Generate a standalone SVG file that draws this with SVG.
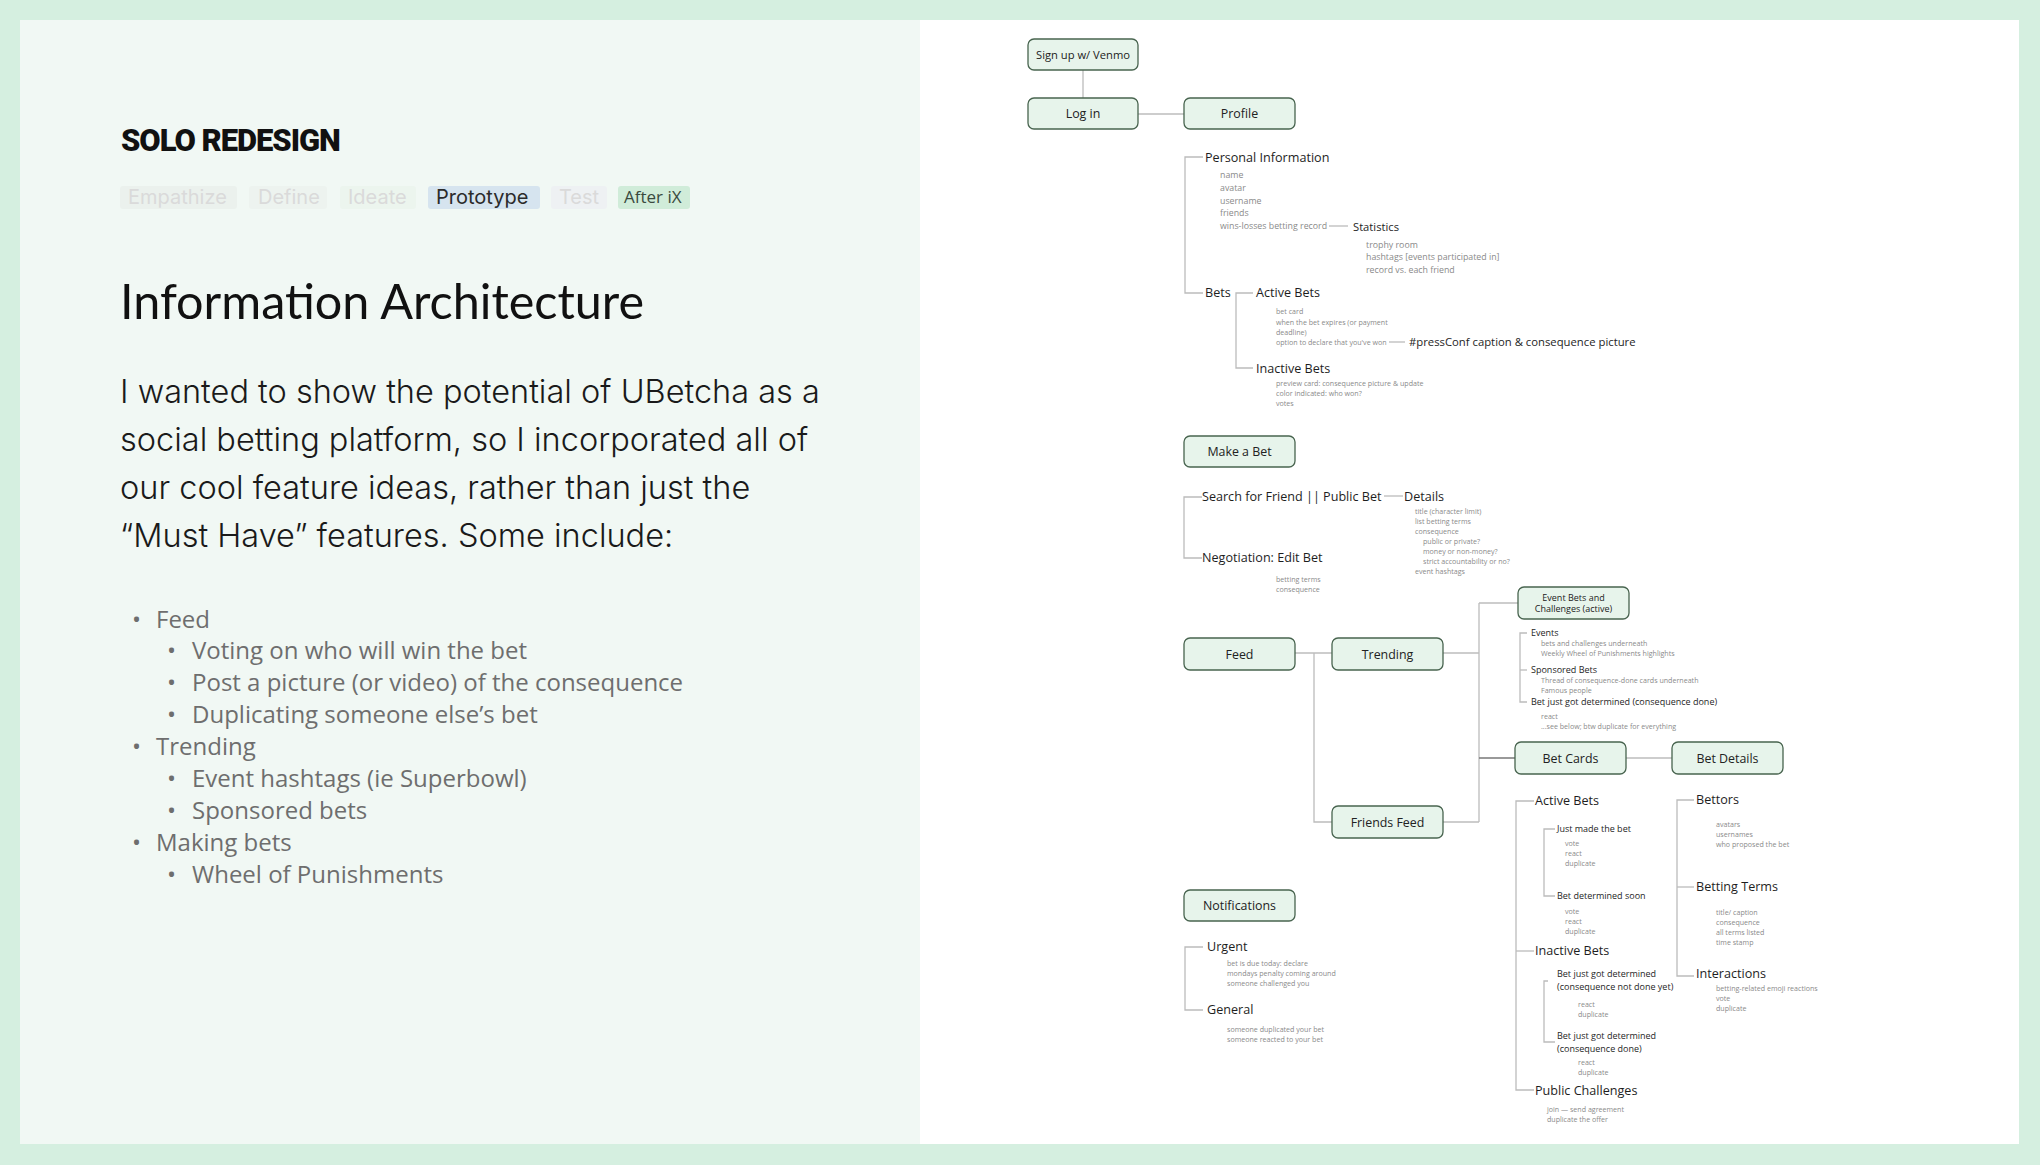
<svg xmlns="http://www.w3.org/2000/svg" width="2040" height="1165" viewBox="0 0 2040 1165">
<style>
.node rect{fill:#e7f4eb;stroke:#48644f;stroke-width:1.3}
.node text{font-family:"Open Sans",sans-serif;font-size:12.4px;fill:#222;text-anchor:middle}
.conn path{stroke:#bcbcbc;stroke-width:1.3;fill:none}
.l2{font-family:"Open Sans",sans-serif;font-size:12.6px;fill:#1e1e1e}
.l3{font-family:"Open Sans",sans-serif;font-size:9px;fill:#1e1e1e}
.g9{font-family:"Open Sans",sans-serif;font-size:8.8px;fill:#8a8a8a}
.g7{font-family:"Open Sans",sans-serif;font-size:7.1px;fill:#8a8a8a}
.tab{font-family:Inter,sans-serif;font-size:20px}
.para{font-family:Inter,sans-serif;font-weight:300;font-size:32.5px;fill:#1a1a1a}
.bul{font-family:"Open Sans",sans-serif;font-size:24px;fill:#6e6e6e}
</style>
<rect x="0" y="0" width="2040" height="1165" fill="#d5efe0"/>
<rect x="20" y="20" width="900" height="1124" fill="#f1f8f4"/>
<rect x="920" y="20" width="1099" height="1124" fill="#ffffff"/>

<g id="left-panel">
<text x="121" y="151" font-family="Roboto,sans-serif" font-weight="900" font-size="31" letter-spacing="-1.05" fill="#111">SOLO REDESIGN</text>
<rect x="120" y="186" width="117" height="23" rx="3" fill="#ebf1ed"/>
<text x="128" y="204" class="tab" fill="#dadada">Empathize</text>
<rect x="249" y="186" width="78" height="23" rx="3" fill="#edf3ef"/>
<text x="258" y="204" class="tab" fill="#dadada">Define</text>
<rect x="340" y="186" width="76" height="23" rx="3" fill="#ecf5ee"/>
<text x="348" y="204" class="tab" fill="#dadada">Ideate</text>
<rect x="428" y="186" width="112" height="23" rx="3" fill="#d6e4ef"/>
<text x="436" y="204" class="tab" fill="#2b2b2b">Prototype</text>
<rect x="551" y="186" width="56" height="23" rx="3" fill="#eef1f3"/>
<text x="559" y="204" class="tab" fill="#dadada">Test</text>
<rect x="618" y="186" width="72" height="23" rx="3" fill="#d0ecd9"/>
<text x="624" y="203" font-family="'Open Sans',sans-serif" font-size="17" fill="#3a4a3e">After iX</text>
<text x="120" y="319" font-family="Lato,sans-serif" font-size="48.5" fill="#111">Information Architecture</text>
<text class="para" x="120" y="403">I wanted to show the potential of UBetcha as a</text>
<text class="para" x="120" y="451">social betting platform, so I incorporated all of</text>
<text class="para" x="120" y="499">our cool feature ideas, rather than just the</text>
<text class="para" x="120" y="547">“Must Have” features. Some include:</text>
<g class="bul">
<text x="132" y="628">•</text><text x="156" y="628">Feed</text>
<text x="167" y="659">•</text><text x="192" y="659">Voting on who will win the bet</text>
<text x="167" y="691">•</text><text x="192" y="691">Post a picture (or video) of the consequence</text>
<text x="167" y="723">•</text><text x="192" y="723">Duplicating someone else’s bet</text>
<text x="132" y="755">•</text><text x="156" y="755">Trending</text>
<text x="167" y="787">•</text><text x="192" y="787">Event hashtags (ie Superbowl)</text>
<text x="167" y="819">•</text><text x="192" y="819">Sponsored bets</text>
<text x="132" y="851">•</text><text x="156" y="851">Making bets</text>
<text x="167" y="883">•</text><text x="192" y="883">Wheel of Punishments</text>
</g>
</g>

<g class="conn" id="connectors">
<path d="M1083 70 V98"/>
<path d="M1138 114 H1184"/>
<path d="M1203 157 H1185 V293 H1203"/>
<path d="M1329 226 H1348"/>
<path d="M1253 293 H1236 V368 H1253"/>
<path d="M1389 342 H1405"/>
<path d="M1202 497 H1184 V558 H1202"/>
<path d="M1384 496 H1403"/>
<path d="M1295 653 H1332"/>
<path d="M1314 653 V822 H1332"/>
<path d="M1443 653 H1479"/>
<path d="M1479 603 V822"/>
<path d="M1479 603 H1518"/>
<path d="M1479 758 H1515" style="stroke:#777"/>
<path d="M1443 822 H1479"/>
<path d="M1527 633 H1520 V702 H1527"/>
<path d="M1520 670 H1527"/>
<path d="M1626 758 H1672"/>
<path d="M1534 801 H1516 V1090 H1534"/>
<path d="M1516 951 H1534"/>
<path d="M1555 829 H1544 V896 H1555"/>
<path d="M1548 981 H1544 V1042 H1555"/>
<path d="M1694 800 H1677 V976 H1694"/>
<path d="M1677 887 H1694"/>
<path d="M1203 947 H1185 V1010 H1203"/>
</g>

<g id="signup" class="node"><rect x="1028" y="39" width="110" height="31" rx="6"/><text x="1083" y="58.5" style="font-size:11.2px">Sign up w/ Venmo</text></g>
<g id="login" class="node"><rect x="1028" y="98" width="110" height="31" rx="6"/><text x="1083" y="118">Log in</text></g>
<g id="profile" class="node"><rect x="1184" y="98" width="111" height="31" rx="6"/><text x="1239.5" y="118">Profile</text></g>
<g id="makebet" class="node"><rect x="1184" y="436" width="111" height="31" rx="6"/><text x="1239.5" y="456">Make a Bet</text></g>
<g id="feed" class="node"><rect x="1184" y="638" width="111" height="32" rx="6"/><text x="1239.5" y="658.5">Feed</text></g>
<g id="trending" class="node"><rect x="1332" y="638" width="111" height="32" rx="6"/><text x="1387.5" y="658.5">Trending</text></g>
<g id="friendsfeed" class="node"><rect x="1332" y="806" width="111" height="32" rx="6"/><text x="1387.5" y="826.5">Friends Feed</text></g>
<g id="eventbets" class="node"><rect x="1518" y="587" width="111" height="32" rx="6"/><text x="1573.5" y="600.5" style="font-size:9px">Event Bets and</text><text x="1573.5" y="612" style="font-size:9px">Challenges (active)</text></g>
<g id="betcards" class="node"><rect x="1515" y="742" width="111" height="32" rx="6"/><text x="1570.5" y="762.5">Bet Cards</text></g>
<g id="betdetails" class="node"><rect x="1672" y="742" width="111" height="32" rx="6"/><text x="1727.5" y="762.5">Bet Details</text></g>
<g id="notifications" class="node"><rect x="1184" y="890" width="111" height="31" rx="6"/><text x="1239.5" y="910">Notifications</text></g>

<g id="profile-details">
<text class="l2" x="1205" y="161.5">Personal Information</text>
<text class="g9" x="1220" y="178">name</text>
<text class="g9" x="1220" y="191">avatar</text>
<text class="g9" x="1220" y="204">username</text>
<text class="g9" x="1220" y="216">friends</text>
<text class="g9" x="1220" y="229">wins-losses betting record</text>
<text class="l2" x="1353" y="231" style="font-size:11.2px">Statistics</text>
<text class="g9" x="1366" y="248">trophy room</text>
<text class="g9" x="1366" y="260">hashtags [events participated in]</text>
<text class="g9" x="1366" y="273">record vs. each friend</text>
<text class="l2" x="1205" y="297">Bets</text>
<text class="l2" x="1256" y="297">Active Bets</text>
<text class="g7" x="1276" y="313.5">bet card</text>
<text class="g7" x="1276" y="324.5">when the bet expires (or payment</text>
<text class="g7" x="1276" y="334.5">deadline)</text>
<text class="g7" x="1276" y="344.5">option to declare that you've won</text>
<text class="l2" x="1409" y="346" style="font-size:11.3px">#pressConf caption &amp; consequence picture</text>
<text class="l2" x="1256" y="373">Inactive Bets</text>
<text class="g7" x="1276" y="385.5">preview card: consequence picture &amp; update</text>
<text class="g7" x="1276" y="395.5">color indicated: who won?</text>
<text class="g7" x="1276" y="405.5">votes</text>
</g>

<g id="makebet-details">
<text class="l2" x="1202" y="501">Search for Friend || Public Bet</text>
<text class="l2" x="1404" y="501">Details</text>
<text class="g7" x="1415" y="513.5">title (character limit)</text>
<text class="g7" x="1415" y="523.5">list betting terms</text>
<text class="g7" x="1415" y="533.5">consequence</text>
<text class="g7" x="1423" y="543.5">public or private?</text>
<text class="g7" x="1423" y="553.5">money or non-money?</text>
<text class="g7" x="1423" y="563.5">strict accountability or no?</text>
<text class="g7" x="1415" y="573.5">event hashtags</text>
<text class="l2" x="1202" y="562">Negotiation: Edit Bet</text>
<text class="g7" x="1276" y="581.5">betting terms</text>
<text class="g7" x="1276" y="591.5">consequence</text>
</g>

<g id="event-details">
<text class="l3" x="1531" y="636">Events</text>
<text class="g7" x="1541" y="645.5">bets and challenges underneath</text>
<text class="g7" x="1541" y="655.5">Weekly Wheel of Punishments highlights</text>
<text class="l3" x="1531" y="673">Sponsored Bets</text>
<text class="g7" x="1541" y="682.5">Thread of consequence-done cards underneath</text>
<text class="g7" x="1541" y="692.5">Famous people</text>
<text class="l3" x="1531" y="705">Bet just got determined (consequence done)</text>
<text class="g7" x="1541" y="718.5">react</text>
<text class="g7" x="1541" y="728.5">...see below; btw duplicate for everything</text>
</g>

<g id="betcards-details">
<text class="l2" x="1535" y="805">Active Bets</text>
<text class="l3" x="1557" y="832">Just made the bet</text>
<text class="g7" x="1565" y="845.5">vote</text>
<text class="g7" x="1565" y="855.5">react</text>
<text class="g7" x="1565" y="865.5">duplicate</text>
<text class="l3" x="1557" y="899">Bet determined soon</text>
<text class="g7" x="1565" y="913.5">vote</text>
<text class="g7" x="1565" y="923.5">react</text>
<text class="g7" x="1565" y="933.5">duplicate</text>
<text class="l2" x="1535" y="955">Inactive Bets</text>
<text class="l3" x="1557" y="977">Bet just got determined</text>
<text class="l3" x="1557" y="990">(consequence not done yet)</text>
<text class="g7" x="1578" y="1006.5">react</text>
<text class="g7" x="1578" y="1016.5">duplicate</text>
<text class="l3" x="1557" y="1039">Bet just got determined</text>
<text class="l3" x="1557" y="1052">(consequence done)</text>
<text class="g7" x="1578" y="1064.5">react</text>
<text class="g7" x="1578" y="1074.5">duplicate</text>
<text class="l2" x="1535" y="1095">Public Challenges</text>
<text class="g7" x="1547" y="1111.5">join — send agreement</text>
<text class="g7" x="1547" y="1121.5">duplicate the offer</text>
</g>

<g id="betdetails-details">
<text class="l2" x="1696" y="804">Bettors</text>
<text class="g7" x="1716" y="826.5">avatars</text>
<text class="g7" x="1716" y="836.5">usernames</text>
<text class="g7" x="1716" y="846.5">who proposed the bet</text>
<text class="l2" x="1696" y="891">Betting Terms</text>
<text class="g7" x="1716" y="914.5">title/ caption</text>
<text class="g7" x="1716" y="924.5">consequence</text>
<text class="g7" x="1716" y="934.5">all terms listed</text>
<text class="g7" x="1716" y="944.5">time stamp</text>
<text class="l2" x="1696" y="978">Interactions</text>
<text class="g7" x="1716" y="990.5">betting-related emoji reactions</text>
<text class="g7" x="1716" y="1000.5">vote</text>
<text class="g7" x="1716" y="1010.5">duplicate</text>
</g>

<g id="notifications-details">
<text class="l2" x="1207" y="951">Urgent</text>
<text class="g7" x="1227" y="965.5">bet is due today: declare</text>
<text class="g7" x="1227" y="975.5">mondays penalty coming around</text>
<text class="g7" x="1227" y="985.5">someone challenged you</text>
<text class="l2" x="1207" y="1014">General</text>
<text class="g7" x="1227" y="1031.5">someone duplicated your bet</text>
<text class="g7" x="1227" y="1041.5">someone reacted to your bet</text>
</g>
</svg>
